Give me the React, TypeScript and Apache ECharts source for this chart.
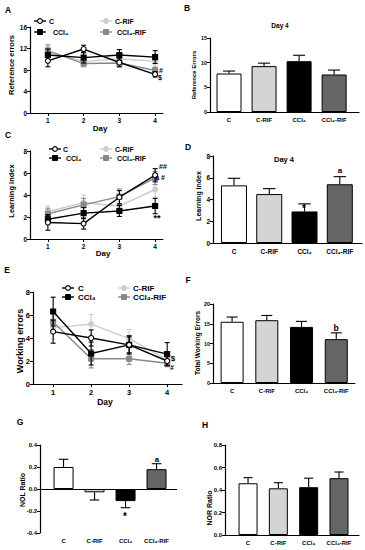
import React, { useEffect, useRef } from 'react';
import * as echarts from 'echarts';

const FONT = 'Liberation Sans, Arial, DejaVu Sans, sans-serif';

const days = [1, 2, 3, 4];
const groups = ['C', 'C-RIF', 'CCl₄', 'CCl₄-RIF'];

// Panel A: reference errors per day
const refC = [9.7, 11.9, 9.4, 7.2];
const refCErr = [1.1, 0.7, 0.8, 0.5];
const refCCl4 = [10.8, 10.3, 10.8, 10.4];
const refCCl4Err = [1.1, 1.0, 1.0, 1.2];
const refCRIF = [11.3, 9.6, 10.1, 9.6];
const refCRIFErr = [1.0, 0.9, 1.0, 0.9];
const refCCl4RIF = [11.6, 9.2, 9.3, 7.9];
const refCCl4RIFErr = [1.1, 0.6, 0.7, 0.6];

// Panel B: reference errors day 4
const refDay4 = [7.8, 9.3, 10.3, 7.6];
const refDay4Err = [0.5, 0.6, 1.2, 0.9];

// Panel C: learning index per day
const learnC = [1.5, 1.4, 3.8, 5.8];
const learnCErr = [0.7, 0.5, 0.6, 0.6];
const learnCCl4 = [1.8, 2.35, 2.55, 3.0];
const learnCCl4Err = [0.4, 0.5, 0.5, 0.7];
const learnCRIF = [2.5, 3.3, 3.0, 4.5];
const learnCRIFErr = [0.5, 0.7, 0.6, 0.8];
const learnCCl4RIF = [2.3, 3.1, 3.85, 5.55];
const learnCCl4RIFErr = [0.5, 0.6, 0.7, 0.6];

// Panel D: learning index day 4
const learnDay4 = [5.3, 4.5, 2.9, 5.4];
const learnDay4Err = [0.65, 0.5, 0.7, 0.7];

// Panel E: working errors per day
const workC = [4.55, 4.0, 3.4, 2.0];
const workCErr = [1.0, 0.7, 0.7, 0.4];
const workCCl4 = [6.3, 2.65, 3.4, 2.6];
const workCCl4Err = [1.25, 1.0, 0.8, 1.0];
const workCRIF = [4.9, 5.2, 3.95, 2.1];
const workCRIFErr = [1.0, 0.85, 0.8, 0.4];
const workCCl4RIF = [5.4, 2.2, 2.2, 1.8];
const workCCl4RIFErr = [0.8, 0.8, 0.5, 0.3];

// Panel F: total working errors
const totalWork = [15.5, 15.9, 14.2, 11.1];
const totalWorkErr = [1.2, 1.2, 1.4, 1.6];

// Panel G: NOL ratio
const nol = [0.2, -0.03, -0.11, 0.18];
const nolErr = [0.07, 0.07, 0.06, 0.05];

// Panel H: NOR ratio
const nor = [0.46, 0.415, 0.425, 0.505];
const norErr = [0.05, 0.05, 0.08, 0.055];

const barColors = ['#ffffff', '#d4d4d4', '#000000', '#666666'];

const lineStyles: any = {
  C: { color: '#000000', symbol: 'circle', fill: '#ffffff' },
  CCl4: { color: '#000000', symbol: 'rect', fill: '#000000' },
  CRIF: { color: '#cdcdcd', symbol: 'circle', fill: '#cdcdcd' },
  CCl4RIF: { color: '#888888', symbol: 'rect', fill: '#888888' },
};

function errBar(gi: number, xs: number[], ys: number[], es: number[], color: string, cap: number, oneSided: boolean) {
  return {
    type: 'custom',
    xAxisIndex: gi,
    yAxisIndex: gi,
    silent: true,
    z: 5,
    data: xs.map((x, i) => [x, ys[i], es[i]]),
    encode: { x: 0, y: 1 },
    renderItem: (params: any, api: any) => {
      const x = api.value(0);
      const y = api.value(1);
      const e = api.value(2);
      const dir = y < 0 ? -1 : 1;
      const hi = oneSided ? y + dir * e : y + e;
      const lo = oneSided ? y : y - e;
      const a = api.coord([x, lo]);
      const b = api.coord([x, hi]);
      const st = { stroke: color, lineWidth: 1.1 };
      const ch: any[] = [
        { type: 'line', shape: { x1: a[0], y1: a[1], x2: b[0], y2: b[1] }, style: st },
        { type: 'line', shape: { x1: b[0] - cap, y1: b[1], x2: b[0] + cap, y2: b[1] }, style: st },
      ];
      if (!oneSided) ch.push({ type: 'line', shape: { x1: a[0] - cap, y1: a[1], x2: a[0] + cap, y2: a[1] }, style: st });
      return { type: 'group', children: ch };
    },
  };
}

function lineSeries(gi: number, key: string, mean: number[], err: number[], z: number) {
  const s = lineStyles[key];
  return [
    { ...errBar(gi, days, mean, err, s.color, 2.5, false), z },
    {
      type: 'line',
      xAxisIndex: gi,
      yAxisIndex: gi,
      z: z + 0.5,
      data: days.map((d, i) => [d, mean[i]]),
      symbol: s.symbol,
      symbolSize: 5,
      showSymbol: true,
      lineStyle: { color: s.color, width: 1.4 },
      itemStyle: { color: s.fill, borderColor: s.color, borderWidth: 1.1, opacity: 1 },
    },
  ];
}

function barSeries(gi: number, vals: number[], errs: number[], width: number, extra: any = {}) {
  return [
    {
      type: 'bar',
      xAxisIndex: gi,
      yAxisIndex: gi,
      barWidth: width,
      z: 2,
      data: vals.map((v, i) => ({
        value: [i, v],
        itemStyle: { color: barColors[i], borderColor: '#000', borderWidth: 1 },
      })),
      ...extra,
    },
    errBar(gi, [0, 1, 2, 3], vals, errs, '#000', width * 0.24, true),
  ];
}

const axisCommon = {
  axisLine: { show: true, onZero: false, lineStyle: { color: '#000', width: 1.2 } },
  axisTick: { show: true, length: 3, lineStyle: { color: '#000', width: 1 } },
  splitLine: { show: false },
};

function yAx(gi: number, min: number, max: number, interval: number, fs: number, fmt?: (v: number) => string) {
  return {
    gridIndex: gi,
    type: 'value',
    min,
    max,
    interval,
    ...axisCommon,
    axisLabel: {
      fontSize: fs,
      fontWeight: 'bold',
      color: '#000',
      fontFamily: FONT,
      margin: 3,
      formatter: fmt ? fmt : (v: number) => String(v),
    },
  };
}

function xDayAx(gi: number, min: number, max: number, fs: number) {
  return {
    gridIndex: gi,
    type: 'value',
    min,
    max,
    ...axisCommon,
    axisTick: { show: true, length: 3, customValues: days, lineStyle: { color: '#000', width: 1 } },
    axisLabel: { fontSize: fs, fontWeight: 'bold', color: '#000', fontFamily: FONT, margin: 4, customValues: days },
  };
}

function xCatAx(gi: number, min: number, max: number, fs: number, showLine = true) {
  return {
    gridIndex: gi,
    type: 'value',
    min,
    max,
    splitLine: { show: false },
    axisLine: { show: showLine, onZero: false, lineStyle: { color: '#000', width: 1.2 } },
    axisTick: { show: false },
    axisLabel: {
      fontSize: fs,
      fontWeight: 'bold',
      color: '#000',
      fontFamily: FONT,
      margin: 5,
      customValues: [0, 1, 2, 3],
      formatter: (v: number) => groups[Math.round(v)] ?? '',
    },
  };
}

function txt(text: string, x: number, y: number, fs: number, rot = 0, extra: any = {}) {
  return {
    type: 'text',
    x,
    y,
    rotation: rot,
    z: 10,
    style: {
      text,
      fontSize: fs,
      fontWeight: 'bold',
      fontFamily: FONT,
      fill: '#000',
      align: 'center',
      verticalAlign: 'middle',
      ...extra,
    },
  };
}

function legendItem(key: string, label: string, cx: number, cy: number, tx: number, fs: number) {
  const s = lineStyles[key];
  const marker =
    s.symbol === 'circle'
      ? { type: 'circle', shape: { cx, cy, r: 2.4 }, style: { fill: s.fill, stroke: s.color, lineWidth: 1.1 } }
      : { type: 'rect', shape: { x: cx - 2.5, y: cy - 2.5, width: 5, height: 5 }, style: { fill: s.fill, stroke: s.color, lineWidth: 1 } };
  return {
    type: 'group',
    z: 10,
    children: [
      { type: 'line', shape: { x1: cx - 6, y1: cy, x2: cx + 6, y2: cy }, style: { stroke: s.color, lineWidth: 1.4 } },
      marker,
      txt(label, tx, cy, fs, 0, { align: 'left' }),
    ],
  };
}

function legendBlock(c1: number, c2: number, t1: number, t2: number, t3: number, t4: number, y1: number, y2: number, fs: number) {
  return [
    legendItem('C', 'C', c1, y1, t1, fs),
    legendItem('CCl4', 'CCl₄', c1, y2, t2, fs),
    legendItem('CRIF', 'C-RIF', c2, y1, t3, fs),
    legendItem('CCl4RIF', 'CCl₄-RIF', c2, y2, t4, fs),
  ];
}

export default function App() {
  const ref = useRef<HTMLDivElement>(null);
  useEffect(() => {
    document.body.style.margin = '0';
    if (!ref.current) return;
    const chart = echarts.init(ref.current, null, { renderer: 'svg' });
    const option: any = {
      animation: false,
      backgroundColor: '#ffffff',
      textStyle: { fontFamily: FONT },
      grid: [
        { left: 30, top: 27, width: 133, height: 86 },
        { left: 210, top: 38, width: 149, height: 74 },
        { left: 30, top: 151, width: 133, height: 88 },
        { left: 213, top: 156, width: 149, height: 87 },
        { left: 33, top: 292, width: 149, height: 92 },
        { left: 213, top: 304, width: 142, height: 79 },
        { left: 40, top: 445, width: 137, height: 88 },
        { left: 225, top: 445, width: 134, height: 90 },
      ],
      xAxis: [
        xDayAx(0, 0.5, 4.22, 6.5),
        xCatAx(1, -0.543, 3.71, 6),
        xDayAx(2, 0.5, 4.22, 6.5),
        xCatAx(3, -0.595, 3.63, 6.5),
        xDayAx(4, 0.47, 4.39, 7.5),
        xCatAx(5, -0.55, 3.54, 6),
        xCatAx(6, -0.76, 3.66, 6, false),
        xCatAx(7, -0.76, 3.66, 6),
      ],
      yAxis: [
        yAx(0, 0, 16, 4, 6.5),
        yAx(1, 0, 15, 5, 5.5),
        yAx(2, 0, 8, 2, 6.5),
        yAx(3, 0, 8, 2, 6.5),
        yAx(4, 0, 8, 2, 7.5),
        yAx(5, 0, 20, 5, 5.5),
        yAx(6, -0.4, 0.4, 0.2, 6, (v: number) => v.toFixed(1)),
        yAx(7, 0, 0.8, 0.2, 6, (v: number) => v.toFixed(1)),
      ],
      series: [
        ...lineSeries(0, 'CRIF', refCRIF, refCRIFErr, 3),
        ...lineSeries(0, 'CCl4RIF', refCCl4RIF, refCCl4RIFErr, 4),
        ...lineSeries(0, 'CCl4', refCCl4, refCCl4Err, 5),
        ...lineSeries(0, 'C', refC, refCErr, 6),
        ...barSeries(1, refDay4, refDay4Err, 25),
        ...lineSeries(2, 'CRIF', learnCRIF, learnCRIFErr, 3),
        ...lineSeries(2, 'CCl4RIF', learnCCl4RIF, learnCCl4RIFErr, 4),
        ...lineSeries(2, 'CCl4', learnCCl4, learnCCl4Err, 5),
        ...lineSeries(2, 'C', learnC, learnCErr, 6),
        ...barSeries(3, learnDay4, learnDay4Err, 26),
        ...lineSeries(4, 'CRIF', workCRIF, workCRIFErr, 3),
        ...lineSeries(4, 'CCl4RIF', workCCl4RIF, workCCl4RIFErr, 4),
        ...lineSeries(4, 'CCl4', workCCl4, workCCl4Err, 5),
        ...lineSeries(4, 'C', workC, workCErr, 6),
        ...barSeries(5, totalWork, totalWorkErr, 23),
        ...barSeries(6, nol, nolErr, 20, {
          markLine: {
            silent: true,
            symbol: 'none',
            label: { show: false },
            lineStyle: { color: '#000', type: 'solid', width: 1.2 },
            data: [{ yAxis: 0 }],
          },
        }),
        ...barSeries(7, nor, norErr, 19),
      ],
      graphic: [
        // panel letters
        txt('A', 8, 10, 8.5),
        txt('B', 187, 8, 8.5),
        txt('C', 8, 135, 8.5),
        txt('D', 188, 147, 8.5),
        txt('E', 7, 270, 8.5),
        txt('F', 188, 280, 8.5),
        txt('G', 20, 422, 8.5),
        txt('H', 205, 425, 8.5),
        // titles
        txt('Day 4', 280, 25, 6.5),
        txt('Day 4', 284, 159, 7.5),
        // axis titles
        txt('Reference errors', 11.5, 65, 7.5, Math.PI / 2),
        txt('Reference Errors', 194, 75, 6, Math.PI / 2),
        txt('Learning index', 11, 191, 7.5, Math.PI / 2),
        txt('Learning index', 198, 196, 7, Math.PI / 2),
        txt('Working errors', 20, 341, 9, Math.PI / 2),
        txt('Total Working Errors', 197, 343, 6.5, Math.PI / 2),
        txt('NOL Ratio', 22, 490, 7, Math.PI / 2),
        txt('NOR Ratio', 209, 508, 7, Math.PI / 2),
        txt('Day', 100, 128, 8),
        txt('Day', 103, 253, 8),
        txt('Day', 105, 402, 8.5),
        // legends
        ...legendBlock(40, 106, 49, 53, 115, 117, 21, 32, 7),
        ...legendBlock(55, 106, 63, 66, 115, 117, 149, 158, 7),
        ...legendBlock(68, 124, 78, 78, 133, 133, 288, 297, 8),
        // significance marks
        txt('#', 161, 70, 7),
        txt('$', 160, 77, 7),
        txt('##', 163, 166, 7),
        txt('a #', 160, 177, 7),
        txt('**', 157, 218, 9),
        txt('*', 304, 208, 10),
        txt('a', 340, 170, 8),
        txt('$', 173, 358, 8),
        txt('#', 172, 367, 7),
        txt('b', 336, 328, 8.5),
        txt('*', 125, 516, 10),
        txt('a', 157, 459, 8),
      ],
    };
    chart.setOption(option);
    return () => chart.dispose();
  }, []);
  return <div ref={ref} style={{ width: 365, height: 550 }} />;
}
